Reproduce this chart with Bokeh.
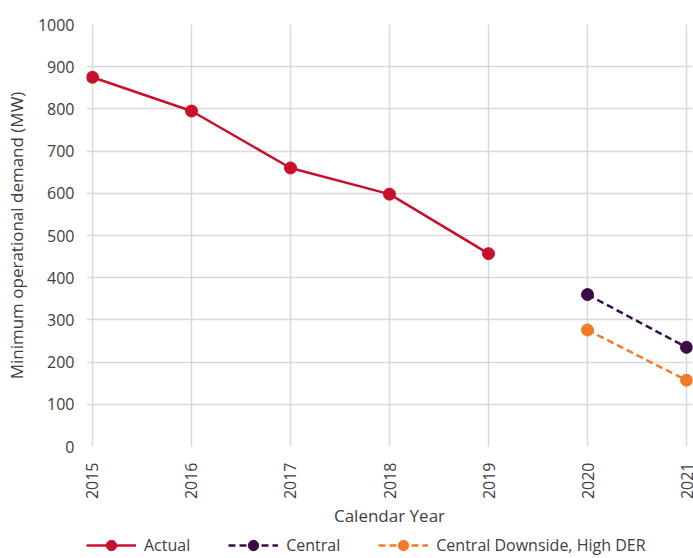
import math
from bokeh.plotting import figure
from bokeh.layouts import column
from bokeh.models import Legend, LegendItem, Range1d, FixedTicker
from bokeh.embed import file_html
from bokeh.resources import INLINE

years_actual = [2015, 2016, 2017, 2018, 2019]
actual = [875, 795, 660, 598, 457]
years_fc = [2020, 2021]
central = [360, 235]
downside = [276, 157]
x_ticks = [2015, 2016, 2017, 2018, 2019, 2020, 2021]
y_ticks = [0, 100, 200, 300, 400, 500, 600, 700, 800, 900, 1000]
series_labels = ["Actual", "Central", "Central Downside, High DER"]

FONT = "Open Sans"
RED = "#C8102E"
PURPLE = "#3B0C47"
ORANGE = "#F37B28"
GRID = "#D9D9D9"
TXT = "#404040"

pad = 0.0606
p = figure(width=693, height=530, output_backend="svg", toolbar_location=None,
           x_range=Range1d(x_ticks[0] - pad, x_ticks[-1] + pad), y_range=Range1d(0, 1000),
           min_border_left=86, min_border_right=1, min_border_top=24, min_border_bottom=83)

p.xaxis.ticker = FixedTicker(ticks=x_ticks)
p.yaxis.ticker = FixedTicker(ticks=y_ticks)
p.xaxis.major_label_orientation = math.pi / 2
for ax in (p.xaxis, p.yaxis):
    ax.major_tick_line_color = None
    ax.minor_tick_line_color = None
    ax.axis_line_color = None
    ax.major_label_text_font = FONT
    ax.major_label_text_font_size = "16px"
    ax.major_label_text_color = TXT
    ax.axis_label_text_font = FONT
    ax.axis_label_text_font_size = "17px"
    ax.axis_label_text_font_style = "normal"
    ax.axis_label_text_color = TXT
p.xaxis.axis_label = "Calendar Year"
p.yaxis.axis_label = "Minimum operational demand (MW)"
p.xaxis.major_label_standoff = 10
p.xaxis.axis_label_standoff = 2
p.yaxis.major_label_standoff = 6
p.yaxis.axis_label_standoff = 7
p.xgrid.grid_line_color = GRID
p.ygrid.grid_line_color = GRID
p.xgrid.grid_line_width = 1.5
p.ygrid.grid_line_width = 1.5
p.outline_line_color = None

p.line(years_actual, actual, line_color=RED, line_width=2.5)
p.scatter(years_actual, actual, size=12, fill_color=RED, line_color=RED)
p.line(years_fc, central, line_color=PURPLE, line_width=2.5, line_dash="7 4")
p.scatter(years_fc, central, size=12, fill_color=PURPLE, line_color=PURPLE)
p.line(years_fc, downside, line_color=ORANGE, line_width=2.5, line_dash="7 4")
p.scatter(years_fc, downside, size=12, fill_color=ORANGE, line_color=ORANGE)

# legend strip (its frame is aligned with the main plot's frame by the column layout)
lg = figure(width=693, height=28, output_backend="svg", toolbar_location=None,
            x_range=Range1d(0, 1), y_range=Range1d(0, 1),
            x_axis_type=None, y_axis_type=None,
            min_border_left=0, min_border_right=0, min_border_top=0, min_border_bottom=0)
lg.xgrid.visible = False
lg.ygrid.visible = False
lg.outline_line_color = None
items = []
for lab, col, dash, xs, ys in zip(series_labels, [RED, PURPLE, ORANGE], ["solid", "7 4", "7 4"],
                                  [years_actual, years_fc, years_fc], [actual, central, downside]):
    rl = lg.line(xs, ys, line_color=col, line_width=2.5, line_dash=dash, visible=False)
    rs = lg.scatter(xs, ys, size=12, fill_color=col, line_color=col, visible=False)
    items.append(LegendItem(label=lab, renderers=[rl, rs]))
legend = Legend(items=items, orientation="horizontal", location=(0, 0),
                label_text_font=FONT, label_text_font_size="16px", label_text_color=TXT,
                label_text_line_height=1.0, label_height=14,
                glyph_width=50, glyph_height=26, label_standoff=8, spacing=38,
                padding=0, margin=0, border_line_color=None, background_fill_alpha=0)
lg.add_layout(legend)

open("out.html", "w").write(file_html(column(p, lg, spacing=0), INLINE))
